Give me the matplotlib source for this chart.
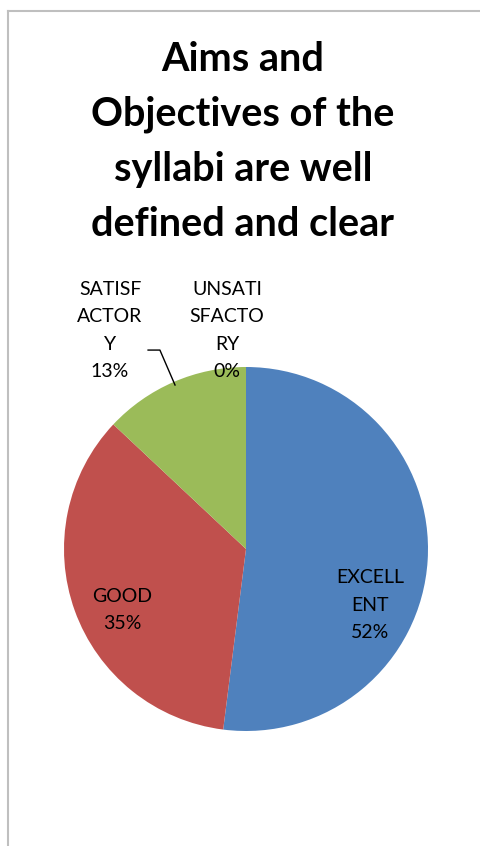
import matplotlib
matplotlib.use("Agg")
import matplotlib.pyplot as plt
from matplotlib.lines import Line2D

categories = ["EXCELL\nENT", "GOOD", "SATISF\nACTOR\nY", "UNSATI\nSFACTO\nRY"]
values = [52, 35, 13, 0]
colors = ["#4F81BD", "#C0504D", "#9BBB59", "#8064A2"]
title = "Aims and\nObjectives of the\nsyllabi are well\ndefined and clear"

W, H = 481, 846
fig = plt.figure(figsize=(W / 100, H / 100), dpi=100)
fig.patch.set_facecolor("white")

# outer border (chart area)
fig.add_artist(Line2D([8 / W, 8 / W], [0, 1 - 11 / H], transform=fig.transFigure,
                      color="#BFBFBF", lw=1.5))
fig.add_artist(Line2D([8 / W, 1], [1 - 11 / H, 1 - 11 / H], transform=fig.transFigure,
                      color="#BFBFBF", lw=1.5))

fig.text(0.505, 1 - 142 / H, title, ha="center", va="center", family="Lato",
         fontweight="bold", fontsize=28.5, linespacing=1.6, color="black")

cx, cy, r = 246, 549, 182
ax = fig.add_axes([(cx - r) / W, (H - cy - r) / H, 2 * r / W, 2 * r / H])
wedges, _ = ax.pie(values, colors=colors, startangle=90, counterclock=False,
                   radius=1.0, wedgeprops=dict(linewidth=0))
ax.set_xlim(-1, 1)
ax.set_ylim(-1, 1)
ax.set_aspect("equal")
ax.axis("off")

total = sum(values)
label_pos = [(0.68, -0.31), (-0.68, -0.335), (-0.747, 1.20), (-0.104, 1.20)]
for cat, v, (x, y) in zip(categories, values, label_pos):
    ax.text(x, y, f"{cat}\n{round(100 * v / total)}%", ha="center", va="center",
            family="Lato", fontsize=14, linespacing=1.75, color="black", clip_on=False)

ax.add_line(Line2D([-0.538, -0.473, -0.39], [1.093, 1.093, 0.901], color="black",
                   lw=1, clip_on=False))

fig.savefig("out.png", dpi=100, facecolor="white")
